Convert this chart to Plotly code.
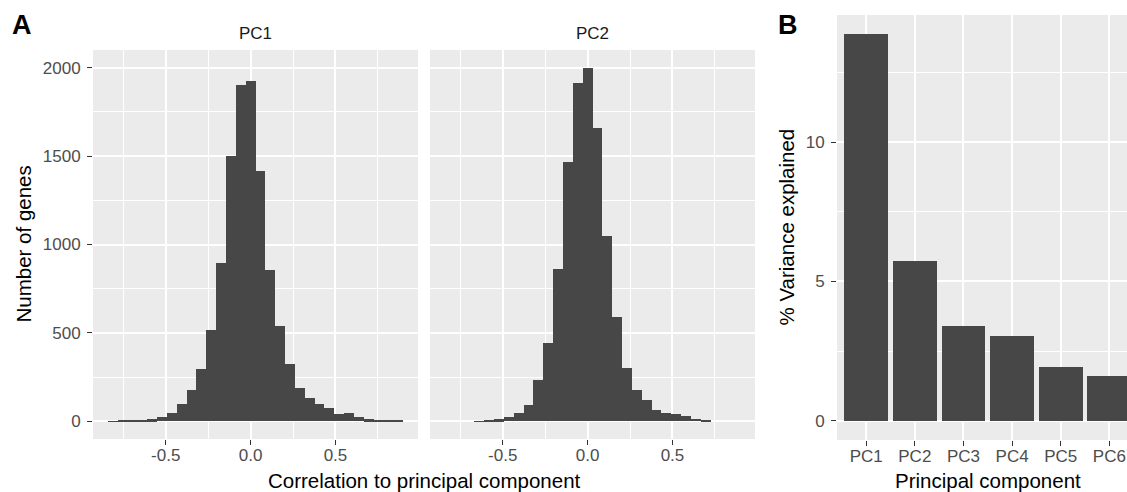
import plotly.graph_objects as go

# ---- data ----
bin_centers = [-0.812, -0.754, -0.696, -0.638, -0.580, -0.522, -0.464, -0.406,
               -0.348, -0.290, -0.232, -0.174, -0.116, -0.058, 0.000, 0.058,
               0.116, 0.174, 0.232, 0.290, 0.348, 0.406, 0.464, 0.522,
               0.580, 0.638, 0.696, 0.754, 0.812, 0.870]
pc1_counts = [1, 2, 3, 6, 11, 26, 49, 100, 175, 294, 515, 896, 1500, 1900, 1925,
              1415, 858, 538, 326, 189, 134, 100, 74, 40, 47, 25, 11, 9, 2, 4]
pc2_counts = [0, 0, 0, 1, 2, 11, 23, 49, 94, 232, 443, 862, 1464, 1915, 2000,
              1659, 1047, 589, 302, 175, 119, 62, 49, 43, 30, 15, 2, 0, 0, 0]
bin_width = 0.058
facet_labels = ["PC1", "PC2"]

pcs = ["PC1", "PC2", "PC3", "PC4", "PC5", "PC6"]
variance_explained = [13.87, 5.72, 3.39, 3.05, 1.92, 1.59]

# ---- style ----
W, H = 1127, 492
FONT = "Liberation Sans, Arial, Helvetica, sans-serif"
BAR = "#474747"
PANEL = "#EBEBEB"
TICKFONT = dict(family=FONT, size=17, color="#4D4D4D")


def px_x(p):
    return p / W


def px_y(p):
    return 1 - p / H


fig = go.Figure()
fig.add_trace(go.Bar(x=bin_centers, y=pc1_counts, width=bin_width,
                     marker=dict(color=BAR, line=dict(width=0)),
                     xaxis="x", yaxis="y", showlegend=False))
fig.add_trace(go.Bar(x=bin_centers, y=pc2_counts, width=bin_width,
                     marker=dict(color=BAR, line=dict(width=0)),
                     xaxis="x2", yaxis="y2", showlegend=False))
fig.add_trace(go.Bar(x=pcs, y=variance_explained, width=0.9,
                     marker=dict(color=BAR, line=dict(width=0)),
                     xaxis="x3", yaxis="y3", showlegend=False))

MINOR = dict(showgrid=True, gridcolor="white", gridwidth=0.9, ticks="")
common_axis = dict(
    showline=False, zeroline=False, showgrid=True,
    gridcolor="white", gridwidth=1.8,
    ticks="outside", ticklen=5, tickwidth=1.3, tickcolor="#333333",
    tickfont=TICKFONT,
)
x_common = dict(common_axis, ticklabelstandoff=-4)
y_common = dict(common_axis, ticklabelstandoff=3)

hist_x = dict(x_common, range=[-0.928, 0.986], tickvals=[-0.5, 0.0, 0.5],
              ticktext=["-0.5", "0.0", "0.5"],
              minor=dict(MINOR, tickvals=[-0.75, -0.25, 0.25, 0.75]))
hist_y = dict(y_common, range=[-100, 2100], tickvals=[0, 500, 1000, 1500, 2000],
              minor=dict(MINOR, tickvals=[250, 750, 1250, 1750]))

yA = [px_y(439), px_y(50)]
yB = [px_y(440), px_y(15)]

fig.update_layout(
    width=W, height=H, autosize=False,
    margin=dict(l=0, r=0, t=0, b=0),
    paper_bgcolor="white", plot_bgcolor=PANEL,
    bargap=0,
    xaxis=dict(hist_x, domain=[px_x(93), px_x(418)], anchor="y"),
    yaxis=dict(hist_y, domain=yA, anchor="x"),
    xaxis2=dict(hist_x, domain=[px_x(430), px_x(755)], anchor="y2"),
    yaxis2=dict(hist_y, domain=yA, anchor="x2", showticklabels=False, ticks=""),
    xaxis3=dict(x_common, domain=[px_x(837), 1.0], anchor="y3",
                type="category", range=[-0.6, 5.363]),
    yaxis3=dict(y_common, domain=yB, anchor="x3", range=[-0.694, 14.56],
                tickvals=[0, 5, 10],
                minor=dict(MINOR, tickvals=[2.5, 7.5, 12.5])),
)

ann = []
# panel letters
ann.append(dict(text="<b>A</b>", x=px_x(10), y=px_y(25), xanchor="left", yanchor="middle",
                font=dict(family=FONT, size=27, color="black")))
ann.append(dict(text="<b>B</b>", x=px_x(776), y=px_y(25), xanchor="left", yanchor="middle",
                font=dict(family=FONT, size=27, color="black")))
# strip labels
for lab, cx in zip(facet_labels, [(93 + 418) / 2, (430 + 755) / 2]):
    ann.append(dict(text=lab, x=px_x(cx), y=px_y(33), xanchor="center", yanchor="middle",
                    font=dict(family=FONT, size=17, color="#1A1A1A")))
# axis titles
ann.append(dict(text="Correlation to principal component", x=px_x((93 + 755) / 2), y=px_y(480),
                xanchor="center", yanchor="middle",
                font=dict(family=FONT, size=20.5, color="black")))
ann.append(dict(text="Number of genes", x=px_x(23), y=px_y((50 + 439) / 2), textangle=-90,
                xanchor="center", yanchor="middle",
                font=dict(family=FONT, size=20.5, color="black")))
ann.append(dict(text="Principal component", x=px_x((837 + 1138) / 2), y=px_y(480),
                xanchor="center", yanchor="middle",
                font=dict(family=FONT, size=20.5, color="black")))
ann.append(dict(text="% Variance explained", x=px_x(786), y=px_y((15 + 440) / 2), textangle=-90,
                xanchor="center", yanchor="middle",
                font=dict(family=FONT, size=20.5, color="black")))
for a in ann:
    a.update(xref="paper", yref="paper", showarrow=False)
fig.update_layout(annotations=ann)

fig.write_html("out.html")
